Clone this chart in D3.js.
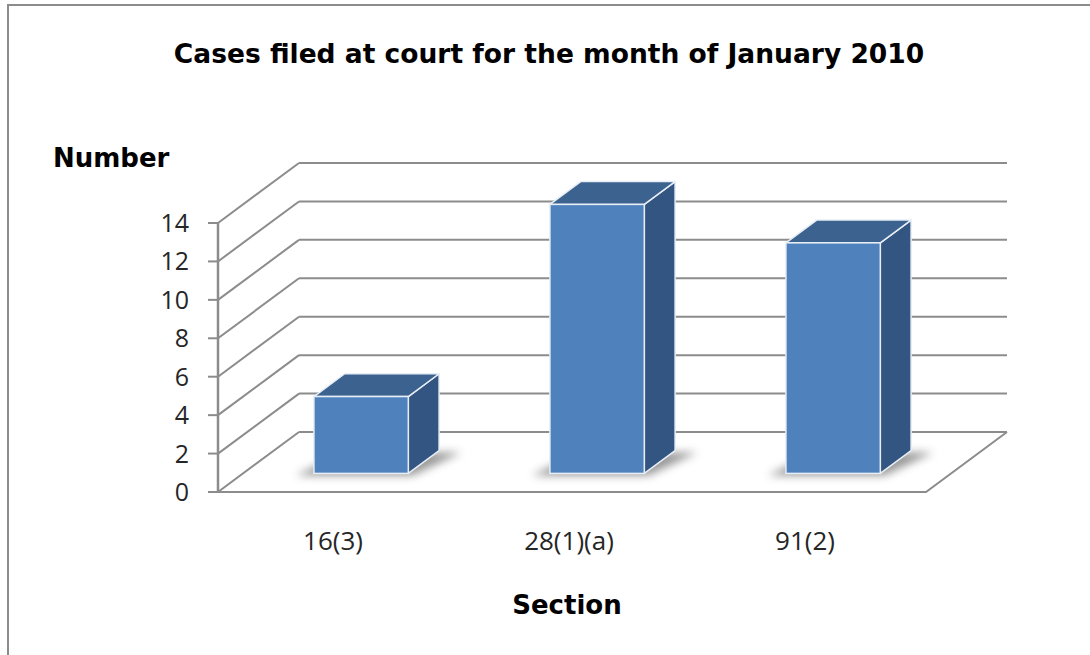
<!DOCTYPE html>
<html>
<head>
<meta charset="utf-8">
<script src="https://cdn.jsdelivr.net/npm/d3@7"></script>
<style>
  body { margin: 0; background: #fff; }
  svg { display: block; }
</style>
</head>
<body>
<svg id="svg_main" width="1090" height="655"></svg>
<script>
// data
var sections = ['16(3)', '28(1)(a)', '91(2)'];
var cases = [4, 14, 12];
var yTicks = [0, 2, 4, 6, 8, 10, 12, 14];

var title = 'Cases filed at court for the month of January 2010';
var yTitle = 'Number';
var xTitle = 'Section';

const W = 1090, H = 655;
// front plane of the 3d box + depth offset
const plotLeft = 218, plotRight = 926, plotBottom = 492, plotTop = 223;
const depthX = 81, depthY = -60;
const barDepth0 = 0.31, barDepth1 = 0.69;

var svg = d3.select('#svg_main');

// outer frame
svg.append('rect')
    .attr('x', 8).attr('y', 5)
    .attr('width', W).attr('height', H)
    .attr('fill', 'none')
    .attr('stroke', '#8c8c8c')
    .attr('stroke-width', 2);

var y = d3.scaleLinear().domain([0, 14]).range([plotBottom, plotTop]);
var x = d3.scaleBand().domain(sections).range([plotLeft, plotRight]).paddingInner(0.6).paddingOuter(0.3);
var xc = d3.scaleBand().domain(sections).range([plotLeft, plotRight]);

var defs = svg.append('defs');
defs.append('filter').attr('id', 'blur')
    .attr('x', '-30%').attr('y', '-100%').attr('width', '160%').attr('height', '300%')
  .append('feGaussianBlur').attr('stdDeviation', 4);

var grid = svg.append('g');
var gridColor = '#8c8c8c';

// back wall lines + left wall diagonals
yTicks.forEach(function(v) {
    grid.append('line')
        .attr('x1', plotLeft + depthX).attr('x2', plotRight + depthX)
        .attr('y1', y(v) + depthY).attr('y2', y(v) + depthY)
        .attr('stroke', gridColor).attr('stroke-width', 2);
    grid.append('line')
        .attr('x1', plotLeft).attr('x2', plotLeft + depthX)
        .attr('y1', y(v)).attr('y2', y(v) + depthY)
        .attr('stroke', gridColor).attr('stroke-width', 2);
    // tick marks
    grid.append('line')
        .attr('x1', plotLeft - 10).attr('x2', plotLeft)
        .attr('y1', y(v)).attr('y2', y(v))
        .attr('stroke', gridColor).attr('stroke-width', 2);
});

// floor front edge + right edge
grid.append('path')
    .attr('d', 'M' + plotLeft + ',' + y(0) + 'L' + plotRight + ',' + y(0) + 'L' + (plotRight + depthX) + ',' + (y(0) + depthY))
    .attr('fill', 'none').attr('stroke', gridColor).attr('stroke-width', 2);
// value axis
grid.append('line')
    .attr('x1', plotLeft).attr('x2', plotLeft)
    .attr('y1', y(0)).attr('y2', y(14))
    .attr('stroke', gridColor).attr('stroke-width', 2.5);

// tick labels
svg.append('g').selectAll('text')
    .data(yTicks)
    .enter().append('text')
    .attr('x', plotLeft - 29)
    .attr('y', function(d) { return y(d) + 9; })
    .attr('text-anchor', 'end')
    .style('font-family', '"Open Sans", sans-serif')
    .style('font-size', '25px')
    .style('fill', '#262626')
    .text(function(d) { return d; });

// bars
var bars = svg.append('g').selectAll('g')
    .data(sections.map(function(s, i) { return { name: s, value: cases[i] }; }))
    .enter().append('g');

function pt(px, py) { return px + ',' + py; }

bars.each(function(d) {
    var g = d3.select(this);
    var cx = x(d.name) + x.bandwidth() / 2;
    var w = x.bandwidth();
    var ox = depthX * barDepth0, oy = depthY * barDepth0;
    var dx = depthX * (barDepth1 - barDepth0), dy = depthY * (barDepth1 - barDepth0);
    var x0 = cx - w / 2 + ox, x1 = cx + w / 2 + ox;
    var yb = y(0) + oy, yt = y(d.value) + oy;

    // soft shadow on the floor
    g.append('path')
        .attr('d', 'M' + pt(x0 - 18, yb + 2) + 'L' + pt(x1 + 4, yb + 2) + 'L' + pt(x1 + dx + 22, yb + dy + 2) + 'L' + pt(x0 + dx, yb + dy + 2) + 'Z')
        .attr('fill', '#444')
        .attr('opacity', 0.55)
        .attr('filter', 'url(#blur)');

    // side
    g.append('path')
        .attr('d', 'M' + pt(x1, yb) + 'L' + pt(x1 + dx, yb + dy) + 'L' + pt(x1 + dx, yt + dy) + 'L' + pt(x1, yt) + 'Z')
        .attr('fill', '#325581').attr('stroke', '#e8eef6').attr('stroke-width', 1.5).attr('stroke-linejoin', 'round');
    // top
    g.append('path')
        .attr('d', 'M' + pt(x0, yt) + 'L' + pt(x1, yt) + 'L' + pt(x1 + dx, yt + dy) + 'L' + pt(x0 + dx, yt + dy) + 'Z')
        .attr('fill', '#3c6290').attr('stroke', '#e8eef6').attr('stroke-width', 1.5).attr('stroke-linejoin', 'round');
    // front
    g.append('rect')
        .attr('x', x0).attr('y', yt)
        .attr('width', w).attr('height', yb - yt)
        .attr('fill', '#4f81bd').attr('stroke', '#e8eef6').attr('stroke-width', 1.5);
});

// category labels
svg.append('g').selectAll('text')
    .data(sections)
    .enter().append('text')
    .attr('x', function(d) { return xc(d) + xc.bandwidth() / 2 - 3; })
    .attr('y', 550)
    .attr('text-anchor', 'middle')
    .style('font-family', '"Open Sans", sans-serif')
    .style('font-size', '26px')
    .style('fill', '#262626')
    .text(function(d) { return d; });

// titles
svg.append('text')
    .attr('x', 549).attr('y', 63)
    .attr('text-anchor', 'middle')
    .style('font-family', '"DejaVu Sans", Verdana, sans-serif')
    .style('font-weight', 'bold')
    .style('font-size', '26.5px')
    .text(title);

svg.append('text')
    .attr('x', 53).attr('y', 167)
    .style('font-family', '"DejaVu Sans", Verdana, sans-serif')
    .style('font-weight', 'bold')
    .style('font-size', '26px')
    .text(yTitle);

svg.append('text')
    .attr('x', 567).attr('y', 614)
    .attr('text-anchor', 'middle')
    .style('font-family', '"DejaVu Sans", Verdana, sans-serif')
    .style('font-weight', 'bold')
    .style('font-size', '26px')
    .text(xTitle);
</script>
</body>
</html>
